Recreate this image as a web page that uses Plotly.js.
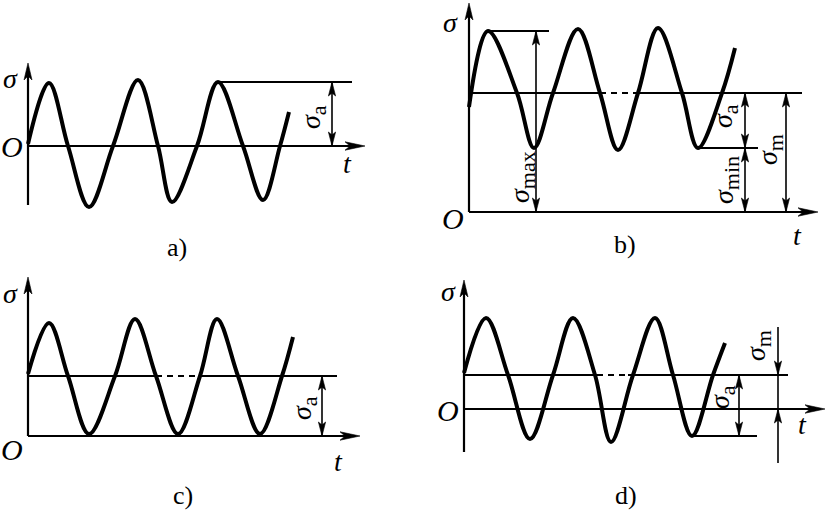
<!DOCTYPE html>
<html><head><meta charset="utf-8">
<script src="https://cdn.plot.ly/plotly-3.0.1.min.js"></script>
<style>html,body{margin:0;padding:0;background:#fff}#chart{width:827px;height:515px}</style>
</head><body><div id="chart"></div>
<script>
// ---------- data (arbitrary stress/time units) ----------
// a) symmetric cycle
const tA   = [0, 2.1, 4.0, 6.1, 8.5, 11.0, 13.0, 14.4, 16.9, 19.0, 21.5, 23.5, 25.2, 26.1];
const sigA = [0.2, 6.3, 0, -6.1, 0, 6.6, 0, -5.6, 0, 6.4, 0, -5.4, 0, 3.4];
// b) general asymmetric cycle
const tB   = [0, 1.9, 4.8, 6.5, 8.4, 10.9, 13.1, 14.9, 16.9, 18.9, 21.3, 22.9, 25.3, 26.6];
const sigB = [10.5, 18.1, 11.9, 6.4, 11.9, 18.3, 11.9, 6.2, 11.9, 18.4, 11.9, 6.4, 11.9, 16.4];
// c) pulsating cycle
const tC   = [0, 2.1, 4.0, 6.1, 8.7, 10.7, 12.8, 15.0, 17.2, 18.9, 21.0, 23.2, 25.4, 26.5];
const sigC = [6.2, 11.3, 6.0, 0.2, 6.0, 11.7, 6.0, 0.2, 6.0, 11.7, 6.0, 0.2, 6.0, 9.9];
// d) alternating cycle with mean stress
const tD   = [0, 2.2, 4.4, 6.6, 8.9, 10.9, 13.1, 14.7, 16.9, 19.1, 20.9, 22.8, 24.9, 26.1];
const sigD = [3.6, 9.1, 3.4, -3.0, 3.4, 9.1, 3.4, -3.3, 3.4, 9.1, 3.4, -2.7, 3.4, 6.6];

// levels
const levelsA = [6.4];             // σmax (= σa)
const levelsB = [18.1, 11.9, 6.4]; // σmax, σm, σmin
const levelsC = [6.0];             // σm (= σa)
const levelsD = [3.4, -2.7];       // σm, σmin
// dashed stretch of the mean line [from, to]
const dashB = [13.1, 16.9];
const dashC = [12.8, 17.2];
const dashD = [13.3, 16.4];
// panel labels
const panelNames = ['a)', 'b)', 'c)', 'd)'];

// ---------- drawing helpers ----------
const PX = 10;           // pixels per unit (equal on both axes)
const FONT = '"Liberation Serif", "Times New Roman", Times, serif';
const traces = [];
const ann = [];
function ax(i){ return i === 1 ? ['x','y'] : ['x'+i, 'y'+i]; }
function line(p, xs, ys, w, dash){
  const [xa, ya] = ax(p);
  traces.push({x: xs, y: ys, xaxis: xa, yaxis: ya, mode: 'lines', hoverinfo: 'skip',
    showlegend: false, line: {color: '#000', width: w, dash: dash || 'solid'}});
}
function wave(p, xs, ys){
  const [xa, ya] = ax(p);
  traces.push({x: xs, y: ys, xaxis: xa, yaxis: ya, mode: 'lines', hoverinfo: 'skip',
    showlegend: false, line: {color: '#000', width: 4, shape: 'spline', smoothing: 1}});
}
function head(p, tx, ty, dir, Lp, Wp, Np){
  const L = Lp / PX, W = Wp / PX, N = Np / PX;
  let xs, ys;
  if (dir === 'up')   { xs = [tx, tx - W, tx, tx + W, tx]; ys = [ty, ty - L, ty - L + N, ty - L, ty]; }
  if (dir === 'down') { xs = [tx, tx - W, tx, tx + W, tx]; ys = [ty, ty + L, ty + L - N, ty + L, ty]; }
  if (dir === 'right'){ xs = [tx, tx - L, tx - L + N, tx - L, tx]; ys = [ty, ty - W, ty, ty + W, ty]; }
  const [xa, ya] = ax(p);
  traces.push({x: xs, y: ys, xaxis: xa, yaxis: ya, mode: 'lines', fill: 'toself',
    fillcolor: '#000', hoverinfo: 'skip', showlegend: false, line: {color: '#000', width: 0.6}});
}
function dim(p, x, yTop, yBot){
  line(p, [x, x], [yTop, yBot], 1.6);
  head(p, x, yTop, 'up', 14, 3.6, 3);
  head(p, x, yBot, 'down', 14, 3.6, 3);
}
function axesArrows(p, yLow, yTip, xTip){
  line(p, [0, 0], [yLow, yTip - 0.8], 2.2);
  line(p, [0, xTip - 0.8], [0, 0], 2.2);
  head(p, 0, yTip, 'up', 17, 4, 4);
  head(p, xTip, 0, 'right', 20, 4.2, 5);
}
function label(p, x, y, text, size, angle){
  const [xa, ya] = ax(p);
  ann.push({xref: xa, yref: ya, x: x, y: y,
    text: '<span style="font-size:' + size + 'px">' + text + '</span>', showarrow: false,
    xanchor: 'center', yanchor: 'middle', textangle: angle || 0,
    font: {family: FONT, size: size, color: '#000'}});
}
const sig = (s) => '<i>σ</i><sub><span style="font-size:22px">' + s + '</span></sub>';

// ---------- panel a ----------
axesArrows(1, -5.9, 8.3, 33.7);
line(1, [tA[9], 32.4], [levelsA[0], levelsA[0]], 2);
dim(1, 30.4, levelsA[0], 0);
wave(1, tA, sigA);
label(1, -1.8, 6.8, '<i>σ</i>', 28);
label(1, -1.6, 0, '<i>O</i>', 30);
label(1, 31.9, -1.7, '<i>t</i>', 28);
label(1, 28.5, 2.9, sig('a'), 28, -90);
label(1, 14.9, -10.1, panelNames[0], 26);

// ---------- panel b ----------
axesArrows(2, 0, 20.9, 34.9);
line(2, [tB[1], 8.0], [levelsB[0], levelsB[0]], 2);
line(2, [0, dashB[0]], [levelsB[1], levelsB[1]], 2);
line(2, [dashB[0], dashB[1]], [levelsB[1], levelsB[1]], 2, '6px,5px');
line(2, [dashB[1], 33.3], [levelsB[1], levelsB[1]], 2);
line(2, [tB[11], 28.9], [levelsB[2], levelsB[2]], 2);
dim(2, 6.7, levelsB[0], 0);
dim(2, 27.6, levelsB[1], levelsB[2]);
dim(2, 27.6, levelsB[2], 0);
dim(2, 31.7, levelsB[1], 0);
wave(2, tB, sigB);
label(2, -1.9, 19.0, '<i>σ</i>', 28);
label(2, -1.6, -0.6, '<i>O</i>', 30);
label(2, 32.8, -2.3, '<i>t</i>', 28);
label(2, 5.3, 3.5, sig('max'), 28, -90);
label(2, 25.6, 9.6, sig('a'), 28, -90);
label(2, 25.7, 3.2, sig('min'), 28, -90);
label(2, 30.1, 6.2, sig('m'), 28, -90);
label(2, 15.6, -3.2, panelNames[1], 26);

// ---------- panel c ----------
axesArrows(3, 0, 15.9, 33.2);
line(3, [0, dashC[0]], [levelsC[0], levelsC[0]], 2);
line(3, [dashC[0], dashC[1]], [levelsC[0], levelsC[0]], 2, '6px,5px');
line(3, [dashC[1], 30.9], [levelsC[0], levelsC[0]], 2);
dim(3, 29.4, levelsC[0], 0);
wave(3, tC, sigC);
label(3, -1.8, 14.3, '<i>σ</i>', 28);
label(3, -1.6, -1.3, '<i>O</i>', 30);
label(3, 31.0, -2.5, '<i>t</i>', 28);
label(3, 27.6, 2.8, sig('a'), 28, -90);
label(3, 15.5, -5.9, panelNames[2], 26);

// ---------- panel d ----------
axesArrows(4, -4.3, 12.9, 36.1);
line(4, [0, dashD[0]], [levelsD[0], levelsD[0]], 2);
line(4, [dashD[0], dashD[1]], [levelsD[0], levelsD[0]], 2, '6px,5px');
line(4, [dashD[1], 32.4], [levelsD[0], levelsD[0]], 2);
line(4, [tD[11], 29.3], [levelsD[1], levelsD[1]], 2);
dim(4, 27.5, levelsD[0], levelsD[1]);
line(4, [31.4, 31.4], [8.2, -5.4], 1.6);
head(4, 31.4, levelsD[0], 'down', 14, 3.6, 3);
head(4, 31.4, 0, 'up', 14, 3.6, 3);
wave(4, tD, sigD);
label(4, -1.6, 11.8, '<i>σ</i>', 28);
label(4, -1.6, -0.1, '<i>O</i>', 30);
label(4, 33.8, -1.5, '<i>t</i>', 28);
label(4, 25.8, 1.2, sig('a'), 28, -90);
label(4, 29.4, 6.3, sig('m'), 28, -90);
label(4, 16.2, -8.6, panelNames[3], 26);

// ---------- layout: each panel mapped at PX px per unit ----------
const W = 827, H = 515;
function mkAxes(ox, oy, L, R, T, B){
  const xa = {domain: [L / W, R / W], range: [(L - ox) / PX, (R - ox) / PX], visible: false, fixedrange: true};
  const ya = {domain: [(H - B) / H, (H - T) / H], range: [(oy - B) / PX, (oy - T) / PX], visible: false, fixedrange: true};
  return [xa, ya];
}
const [xa1, ya1] = mkAxes(28, 146, 0, 413.5, 0, 257.5);
const [xa2, ya2] = mkAxes(469, 212, 413.5, 827, 0, 257.5);
const [xa3, ya3] = mkAxes(28, 436, 0, 413.5, 257.5, 515);
const [xa4, ya4] = mkAxes(464, 409, 413.5, 827, 257.5, 515);
ya2.anchor = 'x2'; ya3.anchor = 'x3'; ya4.anchor = 'x4';
xa2.anchor = 'y2'; xa3.anchor = 'y3'; xa4.anchor = 'y4';

const layout = {
  width: W, height: H, margin: {l: 0, r: 0, t: 0, b: 0},
  paper_bgcolor: '#fff', plot_bgcolor: 'rgba(0,0,0,0)',
  showlegend: false,
  font: {family: FONT, color: '#000'},
  xaxis: xa1, yaxis: ya1, xaxis2: xa2, yaxis2: ya2,
  xaxis3: xa3, yaxis3: ya3, xaxis4: xa4, yaxis4: ya4,
  annotations: ann
};
Plotly.newPlot('chart', traces, layout, {staticPlot: true, displayModeBar: false});
</script>
</body></html>
